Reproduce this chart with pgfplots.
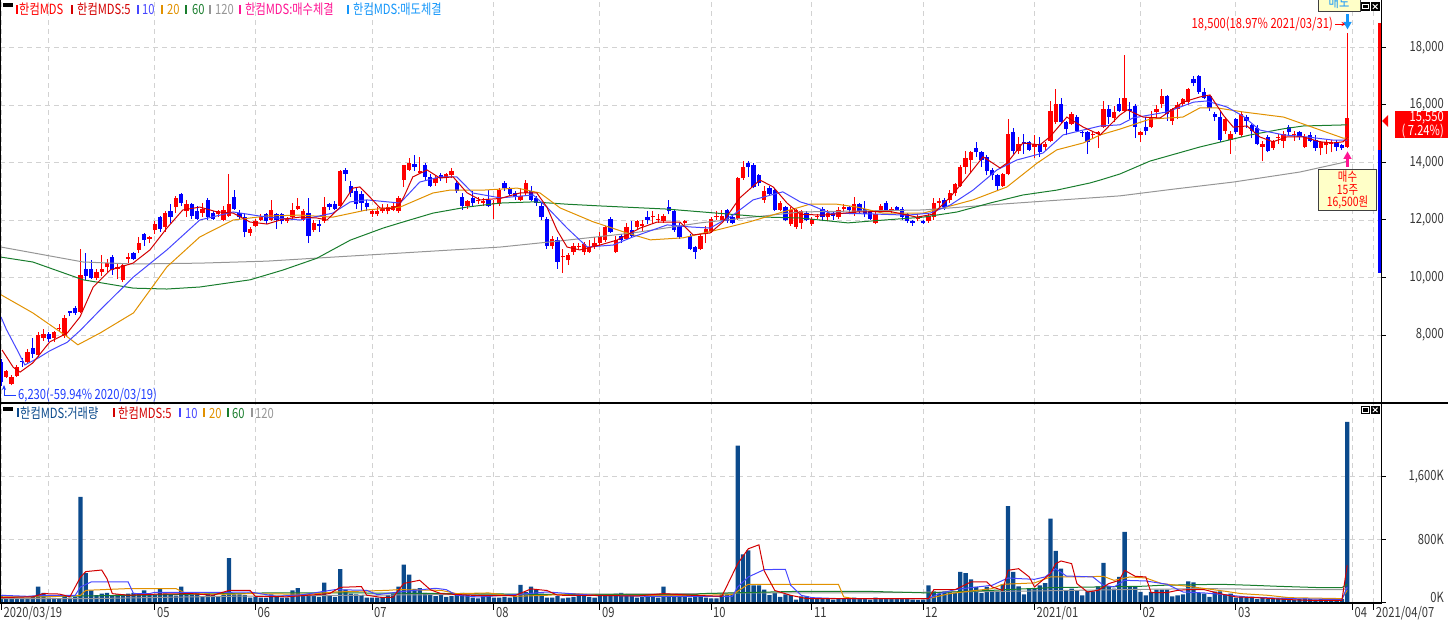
\documentclass[border=0pt]{standalone}
\usepackage{fontspec}
\setmainfont{Noto Sans CJK KR}[FakeStretch=0.8]
\usepackage{pgfplots}
\pgfplotsset{compat=1.18}
\usepackage{pgfplotstable}
\usetikzlibrary{arrows.meta}
\definecolor{cr}{RGB}{255,0,0}
\definecolor{cb}{RGB}{0,0,255}
\definecolor{ma5}{RGB}{210,0,0}
\definecolor{ma10}{RGB}{70,70,255}
\definecolor{ma20}{RGB}{225,145,0}
\definecolor{ma60}{RGB}{25,125,45}
\definecolor{ma120}{RGB}{150,150,150}
\definecolor{vb}{RGB}{11,74,140}
\definecolor{gridc}{RGB}{210,210,210}
\definecolor{txt}{RGB}{55,55,55}
\definecolor{mag}{RGB}{255,20,147}
\definecolor{lb}{RGB}{20,150,250}
\definecolor{yel}{RGB}{255,255,200}
\definecolor{annb}{RGB}{30,60,255}
\newcommand\cf{\fontsize{14pt}{16pt}\selectfont}
\pgfplotstableread{
i o h l c u v
0 7.05 7.15 6.23 6.38 0 95
1 6.55 6.8 6.5 6.75 1 70
2 6.3 6.6 6.25 6.55 1 60
3 6.57 6.95 6.55 6.88 1 55
4 7.1 7.2 6.9 7.06 0 50
5 7.05 7.5 7.0 7.4 1 60
6 7.55 7.9 7.2 7.35 0 70
7 7.3 8.1 7.25 8.0 1 200
8 7.9 8.2 7.8 8.05 1 120
9 8.05 8.1 7.75 7.85 0 60
10 7.9 8.15 7.75 8.1 1 55
11 8.2 8.4 8.1 8.25 1 50
12 7.95 8.7 7.9 8.6 1 80
13 8.82 8.85 8.65 8.78 0 60
14 8.95 9.0 8.7 8.75 0 70
15 8.8 11.0 8.75 10.1 1 1340
16 10.3 10.85 9.9 10.05 0 370
17 10.3 10.6 9.95 10.0 0 150
18 10.0 10.3 9.9 10.2 1 90
19 10.2 10.8 10.05 10.3 1 110
20 10.35 10.65 10.2 10.5 1 120
21 10.7 10.8 10.1 10.25 0 80
22 10.3 10.5 9.95 10.35 1 100
23 9.9 10.5 9.85 10.45 1 100
24 10.65 10.85 10.5 10.72 1 110
25 10.85 10.9 10.6 10.65 0 120
26 10.95 11.4 10.85 11.2 1 110
27 11.5 11.55 11.1 11.3 0 150
28 11.35 11.45 11.2 11.4 1 100
29 11.65 11.95 11.5 11.85 1 90
30 12.1 12.15 11.6 11.7 0 170
31 11.75 12.3 11.6 12.25 1 110
32 12.3 12.55 11.9 12.1 0 90
33 12.45 12.85 12.25 12.75 1 85
34 12.9 12.95 12.5 12.6 0 200
35 12.3 12.7 12.1 12.55 1 90
36 12.55 12.6 12.05 12.15 0 100
37 12.3 12.5 12.0 12.05 0 120
38 12.25 12.6 12.1 12.4 1 80
39 12.7 12.75 12.0 12.1 0 110
40 12.25 12.3 12.0 12.05 0 90
41 12.2 12.35 12.1 12.3 1 70
42 12.0 12.5 11.95 12.35 1 95
43 12.15 13.6 12.1 12.55 1 560
44 12.8 13.05 12.35 12.4 0 100
45 12.25 12.35 12.05 12.1 0 100
46 12.1 12.2 11.4 11.6 0 90
47 11.55 11.75 11.45 11.7 1 60
48 11.8 12.05 11.75 11.95 1 70
49 12.0 12.2 11.95 12.1 1 60
50 12.2 12.25 11.85 11.95 0 55
51 12.0 12.7 11.95 12.35 1 100
52 12.2 12.25 11.7 12.0 0 70
53 12.2 12.25 11.85 11.95 0 60
54 11.95 12.1 11.9 12.05 1 60
55 12.1 12.6 12.05 12.35 1 150
56 12.4 12.75 12.35 12.5 1 180
57 12.0 12.4 11.95 12.3 1 90
58 12.25 12.75 11.2 11.45 0 110
59 11.65 12.0 11.6 11.9 1 80
60 11.85 12.0 11.6 11.8 0 70
61 11.95 12.8 11.9 12.45 1 250
62 12.55 12.6 12.35 12.45 0 80
63 12.55 12.65 12.35 12.4 0 70
64 12.5 13.75 12.45 13.7 1 420
65 13.75 13.8 13.35 13.6 0 160
66 13.2 13.35 12.8 12.95 0 110
67 13.0 13.1 12.4 12.55 0 100
68 12.9 13.0 12.3 12.6 0 90
69 12.6 12.7 12.3 12.45 0 60
70 12.2 12.4 12.1 12.3 1 60
71 12.2 12.45 12.15 12.3 1 60
72 12.3 12.55 12.25 12.4 1 70
73 12.3 12.55 12.2 12.45 1 90
74 12.35 12.6 12.3 12.5 1 110
75 12.3 12.85 12.25 12.75 1 200
76 13.4 13.9 13.15 13.9 1 480
77 13.75 14.15 13.7 14.0 1 350
78 13.95 14.25 13.7 13.85 0 170
79 13.65 14.2 13.6 13.72 1 180
80 13.9 14.0 13.4 13.5 0 120
81 13.5 13.6 13.15 13.2 0 90
82 13.3 13.55 13.2 13.45 1 80
83 13.55 13.65 13.35 13.45 0 90
84 13.45 13.65 13.3 13.6 1 70
85 13.55 13.8 13.45 13.7 1 80
86 13.3 13.4 12.95 13.0 0 90
87 12.8 12.95 12.35 12.5 0 120
88 12.5 12.7 12.4 12.65 1 90
89 12.75 13.0 12.45 12.6 0 60
90 12.65 12.8 12.55 12.7 1 50
91 12.6 12.75 12.5 12.65 1 110
92 12.7 13.05 12.45 12.5 0 90
93 12.55 12.7 12.05 12.6 1 60
94 12.55 13.1 12.5 13.05 1 60
95 13.3 13.35 13.0 13.1 0 70
96 13.1 13.15 12.85 12.9 0 60
97 12.95 13.0 12.7 12.8 0 80
98 12.7 13.1 12.65 12.85 1 220
99 12.95 13.4 12.85 13.3 1 130
100 13.0 13.2 12.65 12.7 0 200
101 12.75 12.85 12.5 12.6 0 160
102 12.5 12.6 12.0 12.1 0 110
103 12.05 12.1 11.0 11.1 0 60
104 11.1 11.45 11.0 11.35 1 60
105 11.3 11.4 10.3 10.55 0 80
106 10.7 11.0 10.15 10.75 1 50
107 10.6 10.85 10.45 10.8 1 60
108 10.9 11.2 10.8 11.1 1 70
109 11.05 11.2 10.95 11.1 1 90
110 10.9 11.25 10.8 11.15 1 100
111 10.9 11.3 10.85 11.05 1 70
112 11.1 11.4 11.0 11.2 1 60
113 11.2 11.6 11.1 11.4 1 80
114 11.3 11.8 11.25 11.75 1 90
115 12.05 12.1 11.55 11.6 0 80
116 10.9 11.45 10.85 11.3 1 110
117 11.45 11.5 11.2 11.3 0 120
118 11.35 11.9 11.3 11.75 1 90
119 11.65 11.95 11.4 11.45 0 80
120 11.75 12.0 11.65 11.95 1 60
121 11.8 12.0 11.6 11.85 1 70
122 12.1 12.3 11.85 12.0 0 80
123 12.1 12.3 11.85 12.15 1 70
124 12.0 12.2 11.9 12.05 1 60
125 11.95 12.2 11.9 12.15 1 200
126 12.45 12.7 12.2 12.3 0 110
127 12.3 12.35 11.6 11.65 0 80
128 11.8 11.9 11.35 11.4 0 90
129 11.9 12.0 11.8 11.95 1 70
130 11.45 11.5 10.95 11.0 0 60
131 11.05 11.1 10.65 10.9 0 70
132 11.0 11.5 10.95 11.45 1 80
133 11.5 11.8 11.2 11.7 1 60
134 11.6 12.1 11.55 12.05 1 50
135 12.1 12.3 12.0 12.15 1 50
136 12.0 12.35 11.95 12.15 1 100
137 12.35 12.4 11.9 11.95 0 100
138 12.1 12.15 11.85 11.9 0 110
139 12.05 13.5 12.0 13.45 1 1990
140 13.45 14.05 13.4 13.85 1 610
141 14.0 14.05 13.5 13.85 0 660
142 13.9 14.0 13.1 13.15 0 215
143 13.55 13.6 13.2 13.3 0 215
144 12.7 13.2 12.6 13.0 1 160
145 13.1 13.2 12.85 12.9 0 90
146 13.05 13.1 12.3 12.35 0 118
147 12.35 12.65 12.3 12.6 1 68
148 12.45 12.5 11.95 12.0 0 100
149 11.85 12.45 11.8 12.35 1 90
150 11.75 12.4 11.7 12.35 1 34
151 11.9 12.35 11.7 12.3 1 76
152 12.25 12.3 11.95 12.0 0 76
153 11.85 12.1 11.8 12.05 1 42
154 12.1 12.2 12.05 12.15 1 45
155 12.4 12.45 11.95 12.1 0 50
156 12.1 12.35 11.95 12.25 1 40
157 12.25 12.3 12.0 12.15 0 35
158 12.1 12.45 12.05 12.35 1 45
159 12.4 12.55 12.3 12.45 1 50
160 12.45 12.5 12.2 12.35 0 40
161 12.2 12.8 12.15 12.55 1 60
162 12.55 12.6 12.2 12.3 0 45
163 12.4 12.65 12.1 12.2 0 40
164 12.3 12.35 12.0 12.05 0 35
165 11.9 12.3 11.85 12.2 1 60
166 12.3 12.55 12.25 12.5 1 50
167 12.6 12.65 12.3 12.35 0 45
168 12.3 12.45 12.25 12.4 1 40
169 12.45 12.5 12.3 12.35 0 40
170 12.4 12.45 12.0 12.1 0 50
171 12.2 12.25 11.9 11.95 0 40
172 11.95 12.0 11.8 11.91 0 35
173 12.05 12.2 11.95 12.09 1 30
174 11.95 12.0 11.85 11.91 0 35
175 11.95 12.25 11.9 12.15 1 215
176 12.1 12.75 12.0 12.6 1 140
177 12.6 12.75 12.45 12.65 1 110
178 12.7 12.75 12.35 12.45 0 140
179 12.7 13.05 12.6 12.95 1 130
180 12.95 13.3 12.85 13.25 1 120
181 13.2 13.9 13.15 13.85 1 385
182 13.85 14.4 13.6 14.15 1 372
183 14.1 14.4 13.65 14.35 1 292
184 14.5 14.7 14.2 14.35 0 195
185 14.35 14.4 13.85 14.1 0 118
186 14.2 14.25 13.55 13.7 0 195
187 13.75 13.8 13.4 13.55 0 152
188 13.55 13.6 13.0 13.2 0 140
189 13.2 13.65 13.15 13.6 1 229
190 13.6 15.5 13.55 15.0 1 1220
191 15.05 15.2 14.3 14.4 0 385
192 14.4 14.9 14.3 14.65 1 203
193 14.7 15.0 14.3 14.66 0 102
194 14.7 14.75 14.4 14.45 0 174
195 14.55 14.95 14.15 14.65 1 174
196 14.65 14.9 14.2 14.35 0 216
197 14.55 14.7 14.4 14.65 1 245
198 14.75 16.15 14.7 15.8 1 1063
199 15.4 16.55 15.35 16.05 1 652
200 16.05 16.25 15.35 15.4 0 427
201 15.4 15.45 14.95 15.15 0 152
202 15.35 15.75 15.3 15.7 1 174
203 15.6 15.65 15.05 15.1 0 152
204 15.05 15.1 14.9 15.01 0 89
205 15.05 15.1 14.3 14.7 0 140
206 14.95 15.1 14.85 15.0 1 140
207 15.0 15.1 14.5 15.05 1 203
208 15.25 16.15 15.2 15.85 1 500
209 15.85 16.0 15.35 15.6 0 203
210 15.55 15.95 15.4 15.75 1 174
211 16.05 16.25 15.75 15.8 0 322
212 15.8 17.75 15.75 16.25 1 893
213 15.85 16.1 15.5 15.8 0 203
214 15.95 16.05 14.85 15.25 0 195
215 14.95 15.1 14.7 15.05 1 131
216 15.25 15.6 14.95 15.1 0 89
217 15.25 15.8 15.2 15.6 1 131
218 15.75 16.0 15.5 15.85 1 161
219 16.05 16.55 15.9 16.3 1 161
220 16.3 16.35 15.45 15.7 0 161
221 15.45 15.9 15.3 15.85 1 76
222 15.85 16.1 15.5 16.0 1 89
223 16.05 16.25 15.95 16.2 1 102
224 16.1 16.6 16.0 16.55 1 267
225 16.9 17.0 16.65 16.75 0 254
226 17.0 17.05 16.4 16.45 0 118
227 16.45 16.6 16.2 16.25 0 110
228 16.3 16.35 15.8 15.9 0 68
229 15.7 15.75 15.45 15.6 0 135
230 15.6 15.8 14.7 14.8 0 140
231 15.1 15.6 15.0 15.5 1 97
232 14.8 15.1 14.3 15.0 1 110
233 15.5 15.55 15.0 15.05 0 59
234 14.95 15.75 14.9 15.7 1 76
235 15.6 15.65 15.2 15.45 0 59
236 15.3 15.35 14.85 15.1 0 68
237 15.2 15.3 14.6 14.65 0 45
238 14.55 14.75 14.05 14.65 1 55
239 14.9 14.95 14.35 14.4 0 40
240 14.5 14.8 14.45 14.75 1 45
241 14.85 15.0 14.65 14.9 1 50
242 14.75 15.1 14.5 15.0 1 60
243 15.25 15.3 14.95 15.05 0 40
244 14.95 15.1 14.75 15.0 1 35
245 15.05 15.1 14.8 14.9 0 45
246 14.55 15.0 14.5 14.9 1 50
247 14.95 15.05 14.7 14.75 0 40
248 14.8 14.95 14.4 14.5 0 35
249 14.5 14.75 14.25 14.7 1 40
250 14.6 14.8 14.3 14.7 1 30
251 14.65 14.8 14.35 14.7 1 35
252 14.7 14.8 14.4 14.55 0 40
253 14.6 14.65 14.45 14.5 0 45
254 14.55 18.5 14.5 15.55 1 2290
}\data
\begin{document}
\begin{tikzpicture}
\pgfplotsset{myax/.style={scale only axis, width=1381pt, xmin=-0.1887, xmax=260.38,
  axis line style={draw=none}, tick style={draw=none}, major tick length=0pt,
  xtick={0,9,29,48,70,93,113,134,153,174,195,215,233,255,259},
  xticklabels={}, yticklabels={}, grid=major,
  major grid style={gridc, line width=0.9pt, dash pattern=on 5pt off 4pt}},
  candle/.style={draw=none, mark=none, forget plot, unbounded coords=discard,
  error bars/.cd, y dir=plus, y explicit, error mark=none}}
% price panel
\begin{axis}[myax, at={(0pt,219pt)}, anchor=south west, height=403pt,
  ymin=5.636, ymax=19.652, ytick={8,10,12,14,16,18}]
\addplot[candle, error bar style={draw=cr, line width=1pt}]
  table[x=i, y expr={\thisrow{u}>0.5 ? \thisrow{l} : nan}, y error plus expr={\thisrow{h}-\thisrow{l}}]{\data};
\addplot[candle, error bar style={draw=cb, line width=1pt}]
  table[x=i, y expr={\thisrow{u}<0.5 ? \thisrow{l} : nan}, y error plus expr={\thisrow{h}-\thisrow{l}}]{\data};
\addplot[candle, error bar style={draw=cr, line width=4.3pt}]
  table[x=i, y expr={\thisrow{u}>0.5 ? \thisrow{o} : nan}, y error plus expr={\thisrow{c}-\thisrow{o}}]{\data};
\addplot[candle, error bar style={draw=cb, line width=4.3pt}]
  table[x=i, y expr={\thisrow{u}<0.5 ? \thisrow{c} : nan}, y error plus expr={\thisrow{o}-\thisrow{c}}]{\data};
\addplot[ma120, line width=1pt, sharp plot, mark=none] coordinates {(0,11.06)(15.5,10.54)(25,10.47)(37.5,10.5)(50.2,10.57)(62.6,10.71)(75.3,10.85)(94.2,11.06)(106.8,11.3)(119.2,11.55)(131.9,11.9)(150.8,12.28)(174,12.35)(188.5,12.55)(211.1,12.84)(221.5,13.08)(232.5,13.32)(245.1,13.67)(253.2,14.0)(254,14.05)};
\addplot[ma60, line width=1pt, sharp plot, mark=none] coordinates {(0,10.71)(6,10.54)(15.5,9.92)(25,9.63)(31.3,9.6)(37.5,9.67)(47,9.92)(53.2,10.26)(59.6,10.67)(65.9,11.3)(72.1,11.72)(75.3,11.9)(81.5,12.24)(87.9,12.45)(94.2,12.59)(100.4,12.63)(103.6,12.59)(106.8,12.55)(113,12.49)(125.7,12.38)(135,12.24)(144.5,12.1)(150.8,12.07)(159.8,11.9)(164.5,11.97)(174,12.1)(180.4,12.28)(186.6,12.59)(192.8,12.87)(199.2,13.04)(205.5,13.29)(207.4,13.39)(211.1,13.6)(216.8,14.05)(226.2,14.54)(235.7,14.96)(241.9,15.17)(245.7,15.27)(254,15.31)};
\addplot[ma20, line width=1pt, sharp plot, mark=none] coordinates {(0,9.4)(6,8.77)(12.5,7.94)(14.5,7.66)(18.7,8.07)(25,8.77)(31.3,10.37)(37.5,11.41)(43.8,12.0)(50.2,12.14)(56.4,12.17)(62.6,12.1)(69,12.35)(75.3,12.45)(81.5,12.94)(84.7,13.04)(91,13.04)(97.4,13.11)(101.7,12.94)(105.5,12.42)(111.7,11.94)(118.1,11.55)(122.5,11.31)(128.7,11.38)(135,11.65)(141.3,11.94)(147.5,12.28)(150.8,12.45)(152.6,12.55)(157.7,12.55)(161.5,12.45)(166.4,12.24)(174,12.24)(180.4,12.55)(183.4,12.7)(189.8,13.15)(195.5,13.98)(199.2,14.44)(204.2,14.68)(207.4,14.96)(211.1,15.16)(216.8,15.51)(223,15.58)(226.2,15.9)(229.4,15.9)(234.3,15.76)(242,15.58)(248.3,15.17)(253.2,14.85)(254.2,14.85)};
\addplot[ma10, line width=1pt, sharp plot, mark=none] coordinates {(0,8.63)(1,8.2)(3,7.5)(4.5,6.96)(7,7.2)(9.2,7.45)(12.5,7.75)(15,8.17)(18.7,8.87)(25,10.02)(31.3,10.96)(37.5,12.0)(43.8,12.28)(50.2,12.1)(56.4,12.0)(62.6,12.24)(65.9,12.63)(69,12.7)(75.3,12.59)(79,13.32)(82.8,13.5)(86,13.5)(89,12.94)(94.2,12.77)(100.4,12.87)(103,12.45)(106.8,11.72)(110.6,11.06)(115.5,11.13)(119.2,11.41)(125.7,11.83)(130,11.76)(133.8,11.72)(138.1,12.17)(141.9,12.7)(147.5,12.98)(150.8,12.63)(152.8,12.52)(156.4,12.24)(164.5,12.21)(171,12.17)(175.3,12.24)(179.1,12.52)(183.4,13.04)(187.9,13.74)(191.7,14.09)(196.6,14.33)(200.4,14.96)(204.2,15.13)(207.4,15.27)(211.1,15.31)(213.6,15.55)(220,15.76)(225,16.1)(227.5,16.14)(231.3,15.93)(234.3,15.62)(237.5,15.13)(242,14.96)(246.4,14.89)(251.3,14.78)(254,14.78)};
\addplot[ma5, line width=1pt, sharp plot, mark=none] coordinates {(0.2,7.48)(2.3,6.88)(3.6,6.71)(6,7.03)(9.2,7.76)(12.5,8.07)(14.9,8.63)(17.4,9.67)(20.6,10.26)(24.9,10.5)(28.1,10.96)(31.3,11.72)(34.3,12.35)(37.5,12.45)(40.8,12.28)(43.8,12.24)(47,11.93)(50.2,11.86)(53.2,12.03)(56.4,12.1)(59.6,12.07)(61.5,12.0)(64,12.45)(66.4,13.11)(67.7,13.15)(69.6,12.8)(71.5,12.42)(73.5,12.4)(75,12.5)(76,12.8)(77.7,13.5)(80.4,13.74)(82.8,13.46)(85.3,13.5)(87.9,12.95)(90.4,12.7)(94.2,12.75)(97.9,12.94)(101.1,12.94)(103,12.45)(104.9,11.65)(106.8,11.06)(109.2,10.96)(113,11.13)(116.2,11.3)(120.6,11.72)(123.8,11.93)(128.1,11.93)(130.6,11.48)(133.8,11.55)(136.2,11.93)(139.4,12.77)(143.2,13.39)(145.7,13.15)(148.3,12.59)(150.8,12.2)(155.1,12.17)(161.5,12.28)(167.7,12.3)(172.8,12.1)(175.8,12.2)(179.1,12.8)(182.3,13.5)(185.3,14.2)(188.5,13.81)(189.8,13.98)(192.8,14.68)(196,14.61)(197.9,14.89)(201.1,15.58)(204.2,15.23)(207.4,14.96)(211.1,15.65)(212.5,15.83)(215.5,15.58)(218.7,15.55)(223,16.1)(226.2,16.28)(228.1,16.35)(230.6,15.65)(232.5,15.23)(235.1,15.27)(237.5,14.89)(240,14.72)(242.6,14.89)(245.7,14.89)(248.9,14.72)(251.3,14.68)(253.2,14.72)(254.2,14.89)};
\end{axis}
% volume panel
\begin{axis}[myax, at={(0pt,19pt)}, anchor=south west, height=200pt,
  ymin=-8.9, ymax=2531, ytick={800,1600}]
\addplot[ybar, bar width=4.3pt, bar shift=0pt, fill=vb, draw=none] table[x=i, y=v]{\data};
\addplot[ma120, line width=1pt, sharp plot, mark=none] coordinates {(0,47)(17,47)(42,76)(67,89)(92,102)(108,102)(131,110)(140,119)(163,119)(195,144)(211,161)(227,174)(245,161)(253,161)(254,175)};
\addplot[ma60, line width=1pt, sharp plot, mark=none] coordinates {(0,59)(8,80)(15,80)(25,89)(42,110)(50,119)(67,119)(88,110)(100,102)(131,97)(132,110)(151,140)(163,140)(175,119)(187,152)(198,186)(215,203)(219,216)(230,229)(236,216)(241,203)(249,186)(253,186)(254,230)};
\addplot[ma20, line width=1pt, sharp plot, mark=none] coordinates {(0,68)(8,68)(15,89)(16,152)(24,174)(33,174)(35,110)(42,102)(47,110)(58,102)(63,131)(73,152)(75,161)(83,152)(86,110)(92,119)(97,76)(103,89)(108,110)(113,89)(131,89)(138,97)(141,229)(158,229)(159,68)(161,47)(175,47)(179,110)(183,144)(187,174)(189,229)(195,246)(198,322)(203,322)(208,330)(210,279)(213,322)(216,309)(219,237)(224,203)(231,140)(234,110)(239,89)(243,59)(253,47)(254,152)};
\addplot[ma10, line width=1pt, sharp plot, mark=none] coordinates {(0,89)(5,76)(8,89)(14,89)(15,195)(17,258)(24,258)(25,110)(28,110)(29,127)(43,127)(47,131)(52,76)(57,97)(63,161)(69,152)(71,97)(75,131)(82,178)(84,161)(86,89)(90,68)(98,102)(103,131)(112,89)(122,76)(138,76)(139,195)(141,322)(144,415)(148,419)(149,216)(151,89)(153,59)(158,47)(175,47)(177,110)(180,161)(183,186)(187,216)(190,309)(192,301)(195,292)(197,322)(199,427)(201,334)(206,322)(208,216)(210,195)(212,279)(216,271)(220,229)(223,131)(227,119)(230,102)(235,68)(243,47)(253,34)(254,195)};
\addplot[ma5, line width=1pt, sharp plot, mark=none] coordinates {(0,60)(6,70)(8,110)(11,105)(13,70)(15,320)(16,390)(19,410)(20,300)(21,110)(24,90)(30,105)(36,110)(40,90)(43,150)(47,150)(48,75)(54,70)(58,90)(62,110)(64,190)(68,200)(69,90)(72,60)(74,65)(76,240)(79,280)(81,160)(83,110)(90,85)(97,85)(100,170)(103,150)(105,90)(115,85)(120,80)(125,110)(130,90)(136,76)(139,490)(141,680)(143,730)(144,400)(146,150)(149,89)(152,47)(175,47)(176,160)(180,160)(183,258)(186,258)(187,195)(189,152)(190,406)(192,427)(194,322)(195,195)(198,364)(199,491)(200,525)(202,491)(203,237)(205,131)(207,152)(209,237)(211,279)(212,406)(214,330)(216,322)(217,123)(220,123)(222,152)(224,161)(227,161)(230,110)(233,68)(237,59)(243,34)(247,25)(253,25)(254,470)};
\end{axis}
\begin{scope}[x=1pt,y=1pt,font=\cf,every node/.style={inner sep=0pt}]
% frames
\draw[line width=1pt] (0.5,19) -- (0.5,622);
\draw[line width=1.5pt] (0,219) -- (1448,219);
\draw[line width=1pt] (1381,19) -- (1381,622);
\draw[line width=1.8pt] (0,19) -- (1381.5,19);
% right ticks
\foreach \yy in {574.5,517,459.5,402,344.5,287,145.7,82.7,19.7} {\draw[line width=1pt] (1381,\yy) -- (1386,\yy);}
\foreach \xx in {1.5,154.7,255.4,372,493.9,599.9,711.2,811.9,923.2,1034.5,1140.5,1235.9,1352.5,1373.7} {\draw[line width=1pt] (\xx,19) -- (\xx,12);}
% price labels
\begin{scope}[every node/.style={anchor=east,inner sep=0pt,text=txt}]
\node at (1444,574.5) {18,000};
\node at (1444,517) {16,000};
\node at (1444,459.5) {14,000};
\node at (1444,402) {12,000};
\node at (1444,344.5) {10,000};
\node at (1444,287) {8,000};
\node at (1444,145.7) {1,600K};
\node at (1444,82.7) {800K};
\node at (1444,25) {0K};
\end{scope}
\begin{scope}[every node/.style={anchor=base west,inner sep=0pt,text=txt}]
\node at (3.5,5) {2020/03/19};
\node at (157,5) {05};
\node at (257.5,5) {06};
\node at (374,5) {07};
\node at (496,5) {08};
\node at (602,5) {09};
\node at (713,5) {10};
\node at (814,5) {11};
\node at (925,5) {12};
\node at (1036.5,5) {2021/01};
\node at (1142.5,5) {02};
\node at (1238,5) {03};
\node at (1354.5,5) {04};
\node at (1375.7,5) {2021/04/07};
\end{scope}
% top legend
\begin{scope}[every node/.style={anchor=base west,inner sep=0pt}]
\fill[black] (3,615) rectangle (13,619);
\fill[cr] (16,608) rectangle (18.2,617); \node[text=cr] at (19,607) {한컴MDS};
\fill[ma5] (71,608) rectangle (73.2,617); \node[text=ma5] at (77,607) {한컴MDS:5};
\fill[ma10] (137,608) rectangle (139.2,617); \node[text=ma10] at (142,607) {10};
\fill[ma20] (161,608) rectangle (163.2,617); \node[text=ma20] at (167,607) {20};
\fill[ma60] (185,608) rectangle (187.2,617); \node[text=ma60] at (192,607) {60};
\fill[ma120] (209,608) rectangle (211.2,617); \node[text=ma120] at (215,607) {120};
\fill[mag] (239,608) rectangle (241.2,617); \node[text=mag] at (245,607) {한컴MDS:매수체결};
\fill[lb] (347,608) rectangle (349.2,617); \node[text=lb] at (353,607) {한컴MDS:매도체결};
% bottom legend
\fill[black] (3,211) rectangle (13,215);
\fill[vb] (17,205) rectangle (19.2,214); \node[text=vb] at (20,204) {한컴MDS:거래량};
\fill[ma5] (113,205) rectangle (115.2,214); \node[text=ma5] at (118,204) {한컴MDS:5};
\fill[ma10] (179,205) rectangle (181.2,214); \node[text=ma10] at (185,204) {10};
\fill[ma20] (203,205) rectangle (205.2,214); \node[text=ma20] at (209,204) {20};
\fill[ma60] (227,205) rectangle (229.2,214); \node[text=ma60] at (232,204) {60};
\fill[ma120] (251,205) rectangle (253.2,214); \node[text=ma120] at (255,204) {120};
\end{scope}
% icons
\foreach \yb in {611.3,208} {
 \fill[black] (1361,\yb) rectangle (1370,\yb+8.2);
 \fill[white] (1362.3,\yb+1.3) rectangle (1368.7,\yb+6.9);
 \fill[black] (1363.4,\yb+2.4) rectangle (1367.6,\yb+5.8);
 \fill[black] (1370.8,\yb) rectangle (1379.5,\yb+8.2);
 \draw[white,line width=1pt] (1372.8,\yb+1.8) -- (1377.5,\yb+6.4) (1372.8,\yb+6.4) -- (1377.5,\yb+1.8);
}
% right range bar and price label
\fill[cr] (1377.6,599) rectangle (1381,472);
\fill[cb] (1377.6,472) rectangle (1381,349);
\fill[cr] (1382,501) -- (1388,507) -- (1388,495) -- cycle;
\fill[cr] (1395,511) rectangle (1448,484);
\node[anchor=east,text=white] at (1444,504.5) {15,550};
\node[anchor=east,text=white] at (1444,491) {( 7.24\%)};
% annotations
\node[anchor=east,text=cr] at (1333,598) {18,500(18.97\% 2021/03/31)};
\draw[cr,line width=0.8pt,-{Stealth[length=5pt,width=4pt]}] (1335,598) -- (1346.5,598);
\fill[lb] (1346.3,608) rectangle (1348.7,600);
\fill[lb] (1343.3,600) -- (1351.7,600) -- (1347.5,592.7) -- cycle;
\fill[mag] (1346.2,463) rectangle (1348.8,455);
\fill[mag] (1343.3,463) -- (1351.7,463) -- (1347.5,470.5) -- cycle;
\draw[fill=yel,draw=black!75,line width=0.7pt] (1318.5,452.5) rectangle (1376.5,411.5);
\node[text=cr,align=center,font=\fontsize{13pt}{12.8pt}\selectfont] at (1347.5,432) {매수\\15주\\16,500원};
\draw[fill=yel,draw=black!75,line width=0.7pt] (1318.5,640) rectangle (1360,610.5);
\node[text=lb] at (1339,620) {매도};
\node[anchor=west,text=annb] at (18,227) {6,230(-59.94\% 2020/03/19)};
\draw[annb,line width=0.8pt,-{Stealth[length=5pt,width=4pt]}] (16,226.5) -- (4,226.5) -- (4,237);
\end{scope}
\pgfresetboundingbox
\path[use as bounding box] (0pt,0pt) rectangle (1448pt,622pt);
\end{tikzpicture}
\end{document}
